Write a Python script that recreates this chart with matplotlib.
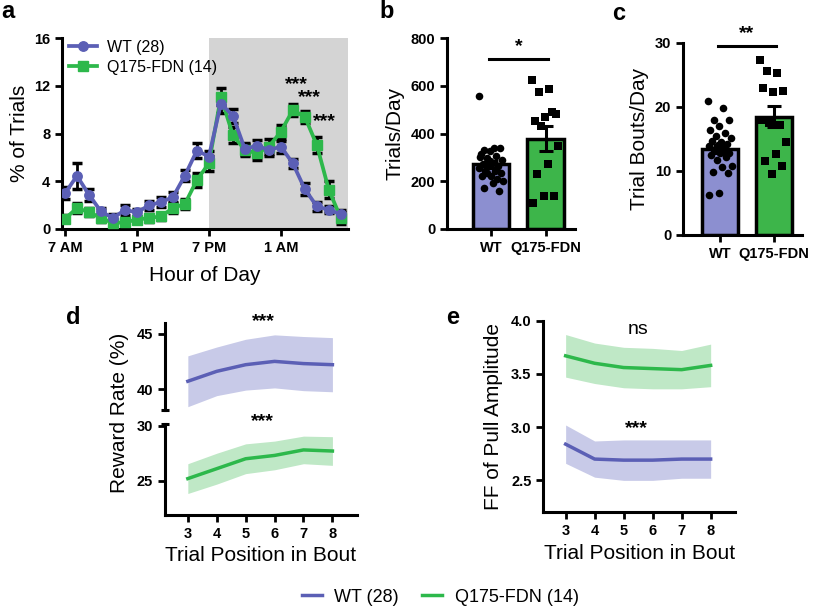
import numpy as np
import matplotlib
matplotlib.use("Agg")
import matplotlib.pyplot as plt
from matplotlib.lines import Line2D

plt.rcParams['font.family'] = ['Liberation Sans', 'DejaVu Sans']

# ── data ──────────────────────────────────────────────────────
hours = np.arange(24)
hour_ticks = [0, 6, 12, 18]
hour_labels = ['7 AM', '1 PM', '7 PM', '1 AM']
wt_pct = [3.0, 4.45, 2.87, 1.47, 0.92, 1.6, 1.39, 1.98, 2.25, 2.67, 4.48, 6.57,
          6.07, 10.5, 9.49, 6.7, 6.98, 6.62, 6.9, 5.5, 3.34, 1.9, 1.6, 1.25]
wt_pct_sem = [0.5, 1.1, 0.5, 0.3, 0.3, 0.4, 0.3, 0.4, 0.4, 0.4, 0.5, 0.6,
              0.5, 0.8, 0.6, 0.5, 0.5, 0.5, 0.5, 0.4, 0.5, 0.4, 0.3, 0.3]
fdn_pct = [0.86, 1.75, 1.42, 0.92, 0.5, 0.56, 0.78, 0.92, 1.06, 1.75, 2.1, 4.1,
           5.5, 11.07, 7.87, 6.62, 6.34, 6.9, 8.15, 9.96, 9.4, 7.04, 3.28, 0.92]
fdn_pct_sem = [0.3, 0.4, 0.3, 0.3, 0.2, 0.3, 0.3, 0.3, 0.3, 0.4, 0.4, 0.6,
               0.6, 0.7, 0.7, 0.5, 0.6, 0.6, 0.6, 0.5, 0.5, 0.7, 0.7, 0.5]
star_hours = [19.3, 20.4, 21.6]
star_levels = [12.1, 11.0, 9.0]

groups = ['WT', 'Q175-FDN']
trials_mean = [271, 378]
trials_sem = [15, 53]
trials_wt = [556, 338, 331, 338, 327, 313, 306, 296, 289, 278, 273, 264, 262, 255,
             245, 241, 234, 222, 220, 209, 234, 199, 192, 171, 160, 285, 300, 250]
trials_fdn = [623, 588, 574, 480, 470, 453, 488, 431, 348, 273, 231, 140, 140, 108]

bouts_mean = [13.4, 18.5]
bouts_sem = [0.6, 1.6]
bouts_wt = [21.0, 19.9, 18.0, 18.0, 17.0, 16.4, 16.0, 15.4, 15.1, 14.6, 14.7, 14.2,
            14.0, 13.9, 13.5, 13.3, 12.8, 12.8, 12.5, 12.2, 11.7, 10.8, 10.7, 9.9,
            9.7, 6.6, 6.3, 13.0]
bouts_fdn = [27.3, 25.3, 25.6, 22.5, 22.4, 22.9, 17.2, 17.5, 14.6, 12.6, 11.6,
             10.8, 9.5, 18.0]

pos = [3, 4, 5, 6, 7, 8]
rr_wt = [40.7, 41.6, 42.2, 42.5, 42.3, 42.2]
rr_wt_sem = [2.3, 2.2, 2.3, 2.4, 2.45, 2.45]
rr_fdn = [25.2, 26.1, 27.0, 27.3, 27.8, 27.7]
rr_fdn_sem = [1.35, 1.4, 1.35, 1.3, 1.25, 1.3]
ff_wt = [2.84, 2.70, 2.69, 2.69, 2.70, 2.70]
ff_wt_sem = [0.18, 0.17, 0.19, 0.19, 0.18, 0.18]
ff_fdn = [3.67, 3.60, 3.56, 3.55, 3.54, 3.58]
ff_fdn_sem = [0.2, 0.19, 0.19, 0.19, 0.18, 0.2]

# ── style ─────────────────────────────────────────────────────
BLUE = '#5B5FB5'
BLUE_BAR = '#8C8FD0'
BLUE_BAND = '#C8CAE8'
GREEN = '#2DB84B'
GREEN_BAR = '#3DB54A'
GREEN_BAND = '#BFE8C6'
GREY = '#D4D4D4'
LW_SPINE = 2.2
TICK_FS = 10.5
LABEL_FS = 15

W, H = 820, 609
fig = plt.figure(figsize=(W / 100, H / 100), dpi=100)


def box(l, t, r, b):
    return [l / W, 1 - b / H, (r - l) / W, (b - t) / H]


def style(ax, bottom=True):
    ax.spines['top'].set_visible(False)
    ax.spines['right'].set_visible(False)
    ax.spines['left'].set_linewidth(LW_SPINE)
    ax.spines['bottom'].set_linewidth(LW_SPINE)
    if not bottom:
        ax.spines['bottom'].set_visible(False)
        ax.tick_params(axis='x', bottom=False, labelbottom=False)
    ax.tick_params(width=2, length=5, direction='out', labelsize=TICK_FS)
    for t in ax.get_xticklabels() + ax.get_yticklabels():
        t.set_fontweight('bold')


def jitter(n, width=0.5):
    return ((np.arange(n) * 0.618) % 1 - 0.5) * width


# ── a ─────────────────────────────────────────────────────────
ax = fig.add_axes(box(62, 38, 348, 229))
ax.axvspan(12, 23.6, color=GREY, lw=0, zorder=0)
ax.errorbar(hours, wt_pct, yerr=wt_pct_sem, fmt='none', ecolor='black',
            elinewidth=2, capsize=3.5, capthick=2.5, zorder=2)
ax.errorbar(hours, fdn_pct, yerr=fdn_pct_sem, fmt='none', ecolor='black',
            elinewidth=2, capsize=3.5, capthick=2.5, zorder=2)
ax.plot(hours, fdn_pct, color=GREEN, lw=2.7, marker='s', ms=6.5, zorder=3,
        label='Q175-FDN (14)')
ax.plot(hours, wt_pct, color=BLUE, lw=2.7, marker='o', ms=6.8, zorder=4,
        label='WT (28)')
for xh, yl in zip(star_hours, star_levels):
    ax.text(xh, yl, '***', ha='center', va='center', fontsize=14, fontweight='bold')
ax.set_xlim(-0.25, 23.6)
ax.set_ylim(0, 16)
ax.set_yticks([0, 4, 8, 12, 16])
ax.set_xticks(hour_ticks)
ax.set_xticklabels(hour_labels)
ax.set_ylabel('% of Trials', fontsize=LABEL_FS, labelpad=4)
ax.set_xlabel('Hour of Day', fontsize=LABEL_FS, labelpad=8)
h, l = ax.get_legend_handles_labels()
ax.legend(h[::-1], l[::-1], loc='upper left', frameon=False, fontsize=11.5,
          bbox_to_anchor=(-0.01, 1.04), handlelength=1.8, labelspacing=0.3,
          handletextpad=0.6, borderaxespad=0.2)
style(ax)


# ── b, c ──────────────────────────────────────────────────────
def bar_panel(rect, means, sems, wt_pts, fdn_pts, ylim, yticks, ylabel, sig, sig_y):
    ax = fig.add_axes(rect)
    ax.bar([0, 1], means, width=0.67, color=[BLUE_BAR, GREEN_BAR],
           edgecolor='black', linewidth=2.5, zorder=1)
    ax.errorbar([0, 1], means, yerr=sems, fmt='none', ecolor='black',
                elinewidth=2.2, capsize=5, capthick=2.2, zorder=2)
    ax.scatter(0 + jitter(len(wt_pts), 0.45), wt_pts, s=30, color='black',
               marker='o', zorder=3, lw=0)
    ax.scatter(1 + jitter(len(fdn_pts), 0.5), fdn_pts, s=28, color='black',
               marker='s', zorder=3, lw=0)
    ax.plot([-0.03, 1.04], [sig_y, sig_y], color='black', lw=2.2, clip_on=False)
    ax.text(0.5, sig_y + (ylim[1] - ylim[0]) * 0.02, sig, ha='center', va='bottom',
            fontsize=14, fontweight='bold')
    ax.set_ylim(*ylim)
    ax.set_yticks(yticks)
    ax.set_xticks([0, 1])
    ax.set_xticklabels(groups)
    ax.set_ylabel(ylabel, fontsize=LABEL_FS, labelpad=4)
    style(ax)
    return ax


ax = bar_panel(box(447, 38, 575, 229), trials_mean, trials_sem, trials_wt, trials_fdn,
               (0, 800), [0, 200, 400, 600, 800], 'Trials/Day', '*', 711)
ax.set_xlim(-0.8, 1.53)
ax = bar_panel(box(683, 43, 802, 235), bouts_mean, bouts_sem, bouts_wt, bouts_fdn,
               (0, 30), [0, 10, 20, 30], 'Trial Bouts/Day', '**', 29.6)
ax.set_xlim(-0.685, 1.52)


# ── d ─────────────────────────────────────────────────────────
def band(ax, x, m, s, c_line, c_band):
    m = np.array(m)
    s = np.array(s)
    ax.fill_between(x, m - s, m + s, color=c_band, lw=0, zorder=1)
    ax.plot(x, m, color=c_line, lw=2.5, zorder=2)


ax_top = fig.add_axes(box(165, 322.7, 356.7, 410))
band(ax_top, pos, rr_wt, rr_wt_sem, BLUE, BLUE_BAND)
ax_top.set_xlim(2.21, 8.84)
ax_top.set_ylim(38.1, 46.0)
ax_top.set_yticks([40, 45])
style(ax_top, bottom=False)
ax_top.plot([-0.02, 0.02], [0, 0], transform=ax_top.transAxes, color='black',
            lw=LW_SPINE, clip_on=False, solid_capstyle='butt')
ax_top.text(5.6, 46.1, '***', ha='center', va='center', fontsize=14, fontweight='bold')

ax_bot = fig.add_axes(box(165, 424, 356.7, 515))
band(ax_bot, pos, rr_fdn, rr_fdn_sem, GREEN, GREEN_BAND)
ax_bot.set_xlim(2.21, 8.84)
ax_bot.set_ylim(21.9, 30.15)
ax_bot.set_yticks([25, 30])
ax_bot.set_xticks(pos)
ax_bot.set_xlabel('Trial Position in Bout', fontsize=LABEL_FS, labelpad=4)
style(ax_bot)
ax_bot.plot([-0.02, 0.02], [1, 1], transform=ax_bot.transAxes, color='black',
            lw=LW_SPINE, clip_on=False, solid_capstyle='butt')
ax_bot.text(5.58, 30.35, '***', ha='center', va='center', fontsize=14, fontweight='bold')
fig.text(120 / W, 1 - 413 / H, 'Reward Rate (%)', rotation=90, ha='center',
         va='center', fontsize=LABEL_FS)

# ── e ─────────────────────────────────────────────────────────
ax = fig.add_axes(box(543.3, 320.7, 735, 512.3))
band(ax, pos, ff_fdn, ff_fdn_sem, GREEN, GREEN_BAND)
band(ax, pos, ff_wt, ff_wt_sem, BLUE, BLUE_BAND)
ax.set_xlim(2.23, 8.84)
ax.set_ylim(2.2, 4.0)
ax.set_yticks([2.5, 3.0, 3.5, 4.0])
ax.set_xticks(pos)
ax.set_xlabel('Trial Position in Bout', fontsize=LABEL_FS, labelpad=4)
ax.set_ylabel('FF of Pull Amplitude', fontsize=LABEL_FS, labelpad=6)
ax.text(5.49, 3.92, 'ns', ha='center', va='center', fontsize=14)
ax.text(5.43, 2.99, '***', ha='center', va='center', fontsize=14, fontweight='bold')
style(ax)

# ── legenda e lettere ─────────────────────────────────────────
handles = [Line2D([], [], color=BLUE, lw=2.5), Line2D([], [], color=GREEN, lw=2.5)]
fig.legend(handles, ['WT (28)', 'Q175-FDN (14)'], loc='center', ncol=2,
           bbox_to_anchor=(0.537, 1 - 597 / H), frameon=False, fontsize=13,
           handlelength=1.1, handletextpad=0.7, columnspacing=1.3)

for lett, x, y in [('a', 8, 12), ('b', 387, 12), ('c', 619, 13),
                   ('d', 73, 318), ('e', 453, 317)]:
    fig.text(x / W, 1 - y / H, lett, ha='center', va='center', fontsize=17,
             fontweight='bold')

fig.savefig('out.png', dpi=100)
